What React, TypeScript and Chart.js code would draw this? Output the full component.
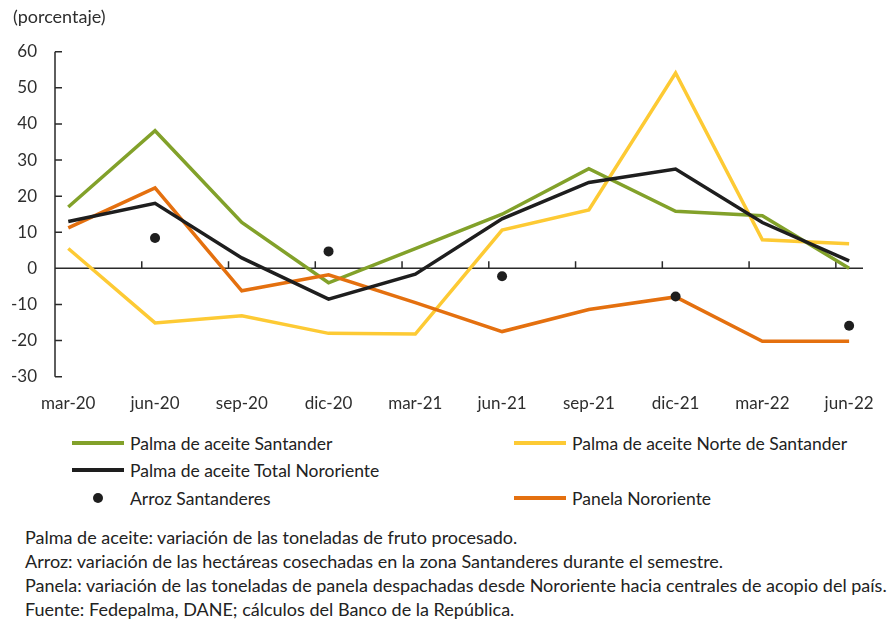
import React, { useEffect, useRef } from "react";
import { Chart, registerables } from "chart.js";
Chart.register(...registerables);

const categories = ["mar-20", "jun-20", "sep-20", "dic-20", "mar-21", "jun-21", "sep-21", "dic-21", "mar-22", "jun-22"];
const palmaSantander = [17, 38.1, 12.7, -4.0, 5.5, 15.0, 27.6, 15.8, 14.6, 0];
const palmaNorte = [5.5, -15.1, -13.1, -18.0, -18.2, 10.6, 16.2, 54.1, 7.9, 6.8];
const palmaTotal = [13.0, 18.0, 2.9, -8.5, -1.6, 13.7, 23.8, 27.5, 12.7, 2.1];
const arrozSantanderes: (number | null)[] = [null, 8.4, null, 4.7, null, -2.2, null, -7.8, null, -15.9];
const panelaNororiente = [11.2, 22.3, -6.2, -1.8, -9.5, -17.5, -11.4, -7.9, -20.2, -20.2];
const yTicks = [-30, -20, -10, 0, 10, 20, 30, 40, 50, 60];

const GREEN = "#82a12a";
const YELLOW = "#fdca34";
const BLACK = "#1e1e1e";
const ORANGE = "#e4700f";
const FONT = "Lato, 'Open Sans', sans-serif";

const toPts = (arr: (number | null)[]) => arr.map((v, i) => ({ x: i, y: v }));

const axesPlugin = {
  id: "customAxes",
  beforeDatasetsDraw(chart: any) {
    const { ctx, scales } = chart;
    const x = scales.x;
    const y = scales.y;
    const y0 = y.getPixelForValue(0);
    ctx.save();
    ctx.strokeStyle = "#2a2a2a";
    ctx.lineWidth = 1.5;
    ctx.beginPath();
    ctx.moveTo(x.left, y.top);
    ctx.lineTo(x.left, y.bottom);
    ctx.moveTo(x.left, y0);
    ctx.lineTo(x.right, y0);
    yTicks.forEach((t) => {
      const py = y.getPixelForValue(t);
      ctx.moveTo(x.left, py);
      ctx.lineTo(x.left + 7, py);
    });
    for (let i = 1; i < categories.length; i++) {
      const px = x.getPixelForValue(i - 0.153);
      ctx.moveTo(px, y0);
      ctx.lineTo(px, y0 - 7);
    }
    ctx.stroke();
    ctx.restore();
  },
};

function ChartCanvas() {
  const ref = useRef<HTMLCanvasElement>(null);
  useEffect(() => {
    if (!ref.current) return;
    const chart = new Chart(ref.current, {
      type: "line",
      data: {
        datasets: [
          {
            label: "Arroz Santanderes",
            data: toPts(arrozSantanderes),
            showLine: false,
            pointRadius: 5,
            pointBackgroundColor: BLACK,
            pointBorderWidth: 0,
            borderColor: BLACK,
            order: 0,
          },
          {
            label: "Palma de aceite Total Nororiente",
            data: toPts(palmaTotal),
            borderColor: BLACK,
            borderWidth: 3.5,
            pointRadius: 0,
            order: 1,
          },
          {
            label: "Panela Nororiente",
            data: toPts(panelaNororiente),
            borderColor: ORANGE,
            borderWidth: 3.5,
            pointRadius: 0,
            order: 2,
          },
          {
            label: "Palma de aceite Santander",
            data: toPts(palmaSantander),
            borderColor: GREEN,
            borderWidth: 3.5,
            pointRadius: 0,
            order: 3,
          },
          {
            label: "Palma de aceite Norte de Santander",
            data: toPts(palmaNorte),
            borderColor: YELLOW,
            borderWidth: 3.5,
            pointRadius: 0,
            order: 4,
          },
        ],
      },
      options: {
        responsive: false,
        animation: false,
        events: [],
        layout: { padding: { top: 51.7, right: 31, left: 0, bottom: 0 } },
        plugins: { legend: { display: false }, tooltip: { enabled: false } },
        scales: {
          x: {
            type: "linear",
            min: -0.153,
            max: 9.16,
            grid: { display: false },
            border: { display: false },
            afterBuildTicks: (s: any) => {
              s.ticks = categories.map((_, i) => ({ value: i }));
            },
            afterFit: (s: any) => {
              s.height = 43.3;
            },
            ticks: {
              autoSkip: false,
              maxRotation: 0,
              padding: 9,
              color: "#2e2e2e",
              font: { family: FONT, size: 17 },
              callback: (v: any) => categories[Math.round(v)] ?? "",
            },
          },
          y: {
            min: -30,
            max: 60,
            grid: { display: false },
            border: { display: false },
            afterBuildTicks: (s: any) => {
              s.ticks = yTicks.map((v) => ({ value: v }));
            },
            afterFit: (s: any) => {
              s.width = 55;
            },
            ticks: {
              padding: 10,
              color: "#2e2e2e",
              font: { family: FONT, size: 17 },
            },
          },
        },
      },
      plugins: [axesPlugin],
    });
    return () => chart.destroy();
  }, []);
  return <canvas ref={ref} width={894} height={420} style={{ position: "absolute", left: 0, top: 0 }} />;
}

const legendItems = [
  { label: "Palma de aceite Santander", color: GREEN, kind: "line", left: 72, top: 443 },
  { label: "Palma de aceite Norte de Santander", color: YELLOW, kind: "line", left: 514, top: 443 },
  { label: "Palma de aceite Total Nororiente", color: BLACK, kind: "line", left: 72, top: 470 },
  { label: "Arroz Santanderes", color: BLACK, kind: "dot", left: 72, top: 498 },
  { label: "Panela Nororiente", color: ORANGE, kind: "line", left: 514, top: 498 },
];

const notes = [
  "Palma de aceite: variación de las toneladas de fruto procesado.",
  "Arroz: variación de las hectáreas cosechadas en la zona Santanderes durante el semestre.",
  "Panela: variación de las toneladas de panela despachadas desde Nororiente hacia centrales de acopio del país.",
  "Fuente: Fedepalma, DANE; cálculos del Banco de la República.",
];

export default function App() {
  return (
    <div style={{ position: "absolute", left: 0, top: 0, width: 894, height: 619, overflow: "hidden", background: "#fff", fontFamily: FONT, color: "#222" }}>
      <ChartCanvas />
      <div style={{ position: "absolute", left: 13, top: 5, fontSize: 18, lineHeight: "22px", color: "#2e2e2e" }}>(porcentaje)</div>
      {legendItems.map((it) => (
        <div key={it.label} style={{ position: "absolute", left: it.left, top: it.top - 11, height: 22, display: "flex", alignItems: "center", fontSize: 17.5, whiteSpace: "nowrap" }}>
          <div style={{ width: 52, display: "flex", justifyContent: "center", alignItems: "center" }}>
            {it.kind === "line" ? (
              <div style={{ width: 52, height: 4, background: it.color }} />
            ) : (
              <div style={{ width: 10, height: 10, borderRadius: 5, background: it.color }} />
            )}
          </div>
          <span style={{ marginLeft: 6 }}>{it.label}</span>
        </div>
      ))}
      <div style={{ position: "absolute", left: 25, top: 525, fontSize: 18, lineHeight: "24px", whiteSpace: "nowrap" }}>
        {notes.map((n) => (
          <div key={n}>{n}</div>
        ))}
      </div>
    </div>
  );
}
